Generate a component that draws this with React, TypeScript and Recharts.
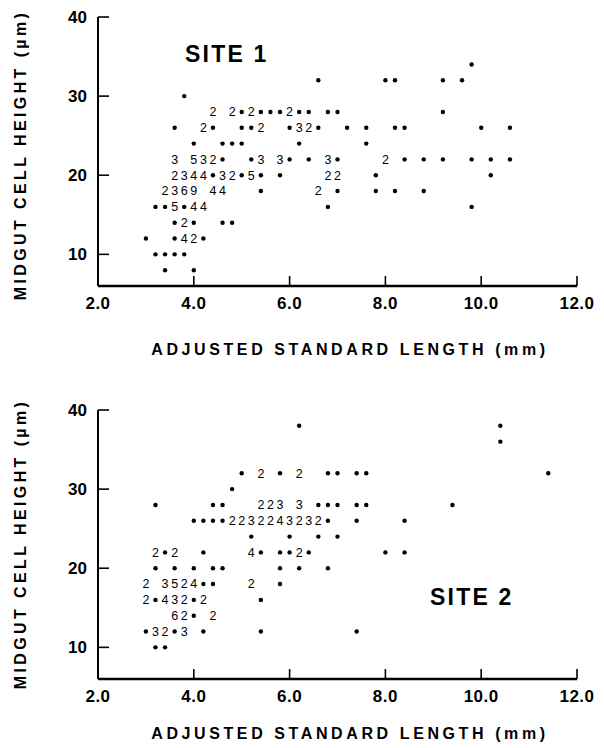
import { Customized, Scatter, ScatterChart, XAxis, YAxis } from "recharts";

// each point: x = length (mm), y = cell height (µm), n = number of fish at that spot
type Pt = { x: number; y: number; n: number };
const pts = (rows: number[][]): Pt[] => rows.map(([x, y, n]) => ({ x, y, n }));

const site1Points = pts([
  [9.8, 34, 1],
  [6.6, 32, 1], [8.0, 32, 1], [8.2, 32, 1], [9.2, 32, 1], [9.6, 32, 1],
  [3.8, 30, 1],
  [4.4, 28, 2], [4.8, 28, 2], [5.0, 28, 1], [5.2, 28, 2], [5.4, 28, 1], [5.6, 28, 1],
  [5.8, 28, 1], [6.0, 28, 2], [6.2, 28, 1], [6.4, 28, 1], [6.8, 28, 1], [7.0, 28, 1],
  [9.2, 28, 1],
  [3.6, 26, 1], [4.2, 26, 2], [4.4, 26, 1], [5.0, 26, 1], [5.2, 26, 1], [5.4, 26, 2],
  [6.0, 26, 1], [6.2, 26, 3], [6.4, 26, 2], [6.6, 26, 1], [7.2, 26, 1], [7.6, 26, 1],
  [8.2, 26, 1], [8.4, 26, 1], [10.0, 26, 1], [10.6, 26, 1],
  [4.0, 24, 1], [4.6, 24, 1], [4.8, 24, 1], [5.0, 24, 1], [6.2, 24, 1], [7.6, 24, 1],
  [3.6, 22, 3], [4.0, 22, 5], [4.2, 22, 3], [4.4, 22, 2], [4.6, 22, 1], [5.2, 22, 1],
  [5.4, 22, 3], [5.8, 22, 3], [6.0, 22, 1], [6.4, 22, 1], [6.8, 22, 3], [7.0, 22, 1],
  [8.0, 22, 2], [8.4, 22, 1], [8.8, 22, 1], [9.2, 22, 1], [9.8, 22, 1], [10.2, 22, 1],
  [10.6, 22, 1],
  [3.6, 20, 2], [3.8, 20, 3], [4.0, 20, 4], [4.2, 20, 4], [4.4, 20, 1], [4.6, 20, 3],
  [4.8, 20, 2], [5.0, 20, 1], [5.2, 20, 5], [5.4, 20, 1], [5.8, 20, 1], [6.8, 20, 2],
  [7.0, 20, 2], [7.8, 20, 1], [10.2, 20, 1],
  [3.4, 18, 2], [3.6, 18, 3], [3.8, 18, 6], [4.0, 18, 9], [4.4, 18, 4], [4.6, 18, 4],
  [5.4, 18, 1], [6.6, 18, 2], [7.0, 18, 1], [7.8, 18, 1], [8.2, 18, 1], [8.8, 18, 1],
  [3.2, 16, 1], [3.4, 16, 1], [3.6, 16, 5], [3.8, 16, 1], [4.0, 16, 4], [4.2, 16, 4],
  [6.8, 16, 1], [9.8, 16, 1],
  [3.6, 14, 1], [3.8, 14, 2], [4.0, 14, 1], [4.6, 14, 1], [4.8, 14, 1],
  [3.0, 12, 1], [3.6, 12, 1], [3.8, 12, 4], [4.0, 12, 2], [4.2, 12, 1],
  [3.2, 10, 1], [3.4, 10, 1], [3.6, 10, 1], [3.8, 10, 1],
  [3.4, 8, 1], [4.0, 8, 1],
]);

const site2Points = pts([
  [6.2, 38, 1], [10.4, 38, 1],
  [10.4, 36, 1],
  [5.0, 32, 1], [5.4, 32, 2], [5.8, 32, 1], [6.2, 32, 2], [6.8, 32, 1], [7.0, 32, 1],
  [7.4, 32, 1], [7.6, 32, 1], [11.4, 32, 1],
  [4.8, 30, 1],
  [3.2, 28, 1], [4.4, 28, 1], [4.6, 28, 1], [5.4, 28, 2], [5.6, 28, 2], [5.8, 28, 3],
  [6.2, 28, 3], [6.6, 28, 1], [6.8, 28, 1], [7.0, 28, 1], [7.4, 28, 1], [7.6, 28, 1],
  [9.4, 28, 1],
  [4.0, 26, 1], [4.2, 26, 1], [4.4, 26, 1], [4.6, 26, 1], [4.8, 26, 2], [5.0, 26, 2],
  [5.2, 26, 3], [5.4, 26, 2], [5.6, 26, 2], [5.8, 26, 4], [6.0, 26, 3], [6.2, 26, 2],
  [6.4, 26, 3], [6.6, 26, 2], [6.8, 26, 1], [7.4, 26, 1], [8.4, 26, 1],
  [5.2, 24, 1], [6.0, 24, 1], [6.6, 24, 1], [7.0, 24, 1],
  [3.2, 22, 2], [3.4, 22, 1], [3.6, 22, 2], [4.2, 22, 1], [5.2, 22, 4], [5.4, 22, 1],
  [5.8, 22, 1], [6.0, 22, 1], [6.2, 22, 2], [6.4, 22, 1], [8.0, 22, 1], [8.4, 22, 1],
  [3.2, 20, 1], [3.6, 20, 1], [4.0, 20, 1], [4.4, 20, 1], [4.6, 20, 1], [5.8, 20, 1],
  [6.2, 20, 1], [6.8, 20, 1],
  [3.0, 18, 2], [3.4, 18, 3], [3.6, 18, 5], [3.8, 18, 2], [4.0, 18, 4], [4.2, 18, 1],
  [4.4, 18, 1], [5.2, 18, 2], [5.8, 18, 1],
  [3.0, 16, 2], [3.2, 16, 1], [3.4, 16, 4], [3.6, 16, 3], [3.8, 16, 2], [4.0, 16, 1],
  [4.2, 16, 2], [5.4, 16, 1],
  [3.6, 14, 6], [3.8, 14, 2], [4.0, 14, 1], [4.4, 14, 2],
  [3.0, 12, 1], [3.2, 12, 3], [3.4, 12, 2], [3.6, 12, 1], [3.8, 12, 3], [4.2, 12, 1],
  [5.4, 12, 1], [7.4, 12, 1],
  [3.2, 10, 1], [3.4, 10, 1],
]);

const xTicks = [2, 4, 6, 8, 10, 12];
const yTicks = [10, 20, 30, 40];
const xDomain = [2, 12];
const yDomain = [6, 40];
const xTitle = "ADJUSTED STANDARD LENGTH (mm)";
const yTitle = "MIDGUT CELL HEIGHT (µm)";

const FONT = "Liberation Sans, Arial, Helvetica, sans-serif";
const INK = "#000000";
// recharts default tickSize 6 + tickMargin 2
const TK = 8;
const LEFT = 98;
const RIGHT = 577;

const Mark = (props: any) => {
  const { cx, cy, payload } = props;
  if (payload.n === 1) return <circle cx={cx} cy={cy} r={2.2} fill={INK} />;
  return (
    <text x={cx} y={cy} dy={4.3} textAnchor="middle" fontSize={12.5} fontFamily={FONT} fill={INK}>
      {payload.n}
    </text>
  );
};

// ticks point inward, so each mark is drawn together with its label
const XTick = ({ x, y, payload }: any) => {
  const ay = y - TK;
  return (
    <g>
      {payload.value !== 2 && (
        <path d={`M${x},${ay}L${x},${ay - 10}`} stroke="black" strokeWidth={1.6} fill="none" />
      )}
      <text x={x} y={ay + 23} textAnchor="middle" fontSize={17} fontWeight="bold"
        fontFamily={FONT} letterSpacing={0.5} fill={INK}>
        {payload.value.toFixed(1)}
      </text>
    </g>
  );
};

const YTick = ({ x, y, payload }: any) => {
  const ax = x + TK;
  return (
    <g>
      <path d={`M${ax},${y}L${ax + 11},${y}`} stroke="black" strokeWidth={1.6} fill="none" />
      <text x={ax - 11} y={y + 6} textAnchor="end" fontSize={17} fontWeight="bold"
        fontFamily={FONT} fill={INK}>
        {payload.value}
      </text>
    </g>
  );
};

function SitePlot({ data, site, siteX, siteY, top, bottom, xTitleY, yTitleY }: {
  data: Pt[]; site: string; siteX: number; siteY: number;
  top: number; bottom: number; xTitleY: number; yTitleY: number;
}) {
  return (
    <ScatterChart width={604} height={374}
      margin={{ top, right: 604 - RIGHT, bottom: bottom - 30, left: LEFT - 40 }}>
      <XAxis type="number" dataKey="x" domain={xDomain} ticks={xTicks} height={30}
        stroke="black" strokeWidth={2.5} tick={<XTick />} tickSize={6} interval={0}
        tickLine={{ strokeWidth: 0 }} />
      <YAxis type="number" dataKey="y" domain={yDomain} ticks={yTicks} width={40}
        stroke="black" strokeWidth={2} tick={<YTick />} tickSize={6} interval={0}
        tickLine={{ strokeWidth: 0 }} />
      <Scatter data={data} shape={<Mark />} isAnimationActive={false} />
      <Customized component={() => (
        <g>
          <text x={siteX} y={siteY} fontSize={23} fontWeight="bold" fontFamily={FONT}
            letterSpacing={2.2} fill={INK}>
            {site}
          </text>
          <text x={350} y={xTitleY} textAnchor="middle" fontSize={16} fontWeight="bold"
            fontFamily={FONT} letterSpacing={3.6} fill={INK}>
            {xTitle}
          </text>
          <text x={26} y={yTitleY} transform={`rotate(-90 26 ${yTitleY})`} textAnchor="middle"
            fontSize={16} fontWeight="bold" fontFamily={FONT} letterSpacing={3.4} fill={INK}>
            {yTitle}
          </text>
        </g>
      )} />
    </ScatterChart>
  );
}

export default function App() {
  return (
    <div style={{ position: "absolute", left: 0, top: 0, width: 604, height: 748, background: "#fff" }}>
      <SitePlot data={site1Points} site="SITE 1" siteX={185} siteY={62}
        top={17} bottom={88} xTitleY={355} yTitleY={155} />
      <SitePlot data={site2Points} site="SITE 2" siteX={430} siteY={231}
        top={36} bottom={69} xTitleY={365} yTitleY={170} />
    </div>
  );
}
